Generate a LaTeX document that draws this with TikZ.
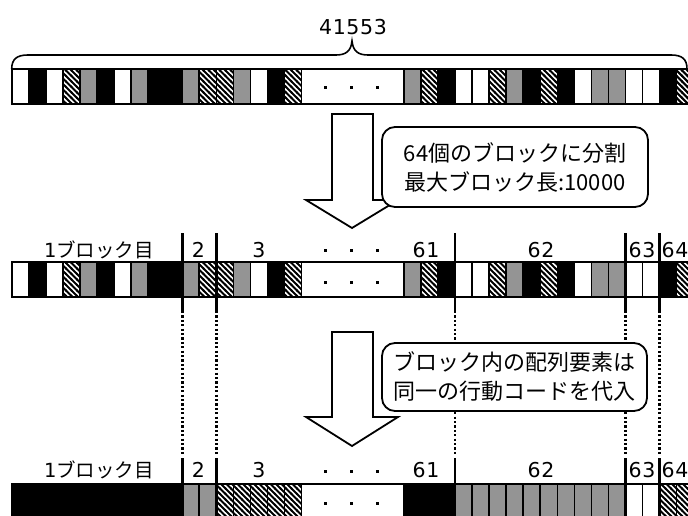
\documentclass[tikz,border=0pt]{standalone}
\usepackage{fontspec}
\setmainfont{Noto Sans CJK JP}
\newfontfamily\jpnum[LetterSpace=3]{DejaVu Sans}
\usetikzlibrary{patterns}
\pgfdeclarepatternformonly{mhatch}{\pgfqpoint{-1pt}{-1pt}}{\pgfqpoint{6.5pt}{6.5pt}}{\pgfqpoint{5.5pt}{5.5pt}}{%
  \pgfsetlinewidth{2.1pt}%
  \pgfpathmoveto{\pgfqpoint{-1pt}{6.5pt}}%
  \pgfpathlineto{\pgfqpoint{6.5pt}{-1pt}}%
  \pgfusepathqstroke}
\tikzset{
  cellline/.style={draw=black, line width=1.6pt},
  cW/.style={fill=white},
  cK/.style={fill=black},
  cG/.style={fill=black!42},
  cH/.style={pattern=mhatch},
  sepline/.style={line width=2.6pt},
  dotsep/.style={line width=2.6pt, dash pattern=on 2.2pt off 2.2pt},
  blockarrow/.style={draw=black, line width=1.8pt, fill=white, line join=miter},
  infobox/.style={draw=black, line width=1.8pt, rounded corners=13pt, fill=white, align=center,
    font=\fontsize{22}{29}\selectfont, inner sep=0pt},
  lab/.style={font=\fontsize{19.5}{20}\selectfont, inner sep=0pt},
  numlab/.style={font=\fontsize{20.5}{22}\selectfont\jpnum, inner sep=0pt},
}
\newcommand\cellbar[3]{% #1 top, #2 height, #3 list
  \foreach \i/\s in {#3} {
    \filldraw[cellline,\s] ({11.7+17.05*\i},#1) rectangle ({11.7+17.05*(\i+1)},#1+#2);
  }
  \filldraw[cellline,fill=white] ({11.7+17.05*17},#1) rectangle ({11.7+17.05*23},#1+#2);
  \draw[cellline] (11.7,#1) rectangle (720,#1+#2);
}
\newcommand\sqdot[2]{\fill ({#1-1.5},{#2-1.5}) rectangle ++(3,3);}
\newcommand\threedots[1]{\sqdot{325.5}{#1}\sqdot{351.5}{#1}\sqdot{377.5}{#1}}
\begin{document}
\begin{tikzpicture}[x=1pt,y=-1pt]
\useasboundingbox (0,0) rectangle (688,516);
\clip (0,0) rectangle (688,516);
\fill[white] (0,0) rectangle (688,516);

% brace and total length
\draw[line width=1.6pt] (11.7,69) .. controls (11.7,59) and (17,55) .. (28,55) -- (336,55)
  .. controls (346,55) and (351,51) .. (352,41) .. controls (353,51) and (358,55) .. (368,55)
  -- (671,55) .. controls (682,55) and (687,59) .. (687,69);
\node[numlab] (total) at (353,27) {41553};

% top bar
\cellbar{69}{35}{0/cW,1/cK,2/cW,3/cH,4/cG,5/cK,6/cW,7/cG,8/cK,9/cK,10/cG,11/cH,12/cH,13/cG,14/cW,15/cK,16/cH,
  23/cG,24/cH,25/cK,26/cW,27/cW,28/cH,29/cG,30/cK,31/cH,32/cK,33/cW,34/cG,35/cG,36/cW,37/cW,38/cK,39/cH,40/cW}
\threedots{88}

% arrow 1 and box 1
\draw[blockarrow] (332,114) -- (373,114) -- (373,200) -- (398,200) -- (352,228) -- (306,200) -- (332,200) -- cycle;
\node[infobox, minimum width=266pt, minimum height=80pt] (box1) at (515,167)
  {64個のブロックに分割\\最大ブロック長:10000};

% row 2 labels
\node[lab] (r2b1) at (99,250) {{\jpnum 1}ブロック目};
\node[numlab] (r2b2) at (198.5,250) {2};
\node[numlab] (r2b3) at (259,250) {3};
\threedots{250}
\node[numlab] (r2b61) at (426,250) {61};
\node[numlab] (r2b62) at (541,250) {62};
\node[numlab] (r2b63) at (642,250) {63};
\node[numlab] (r2b64) at (675,250) {64};

% row 2 bar
\cellbar{262}{35}{0/cW,1/cK,2/cW,3/cH,4/cG,5/cK,6/cW,7/cG,8/cK,9/cK,10/cG,11/cH,12/cH,13/cG,14/cW,15/cK,16/cH,
  23/cG,24/cH,25/cK,26/cW,27/cW,28/cH,29/cG,30/cK,31/cH,32/cK,33/cW,34/cG,35/cG,36/cW,37/cW,38/cK,39/cH,40/cW}
\threedots{282}

% row 3 bar
\cellbar{484}{40}{0/cK,1/cK,2/cK,3/cK,4/cK,5/cK,6/cK,7/cK,8/cK,9/cK,10/cG,11/cG,12/cH,13/cH,14/cH,15/cH,16/cH,
  23/cK,24/cK,25/cK,26/cG,27/cG,28/cG,29/cG,30/cG,31/cG,32/cG,33/cG,34/cG,35/cG,36/cW,37/cW,38/cH,39/cH,40/cH}
\threedots{503}

% block separators
\foreach \k [count=\n] in {10,12,26,36,38} {
  \coordinate (s\n a) at ({11.7+17.05*\k},233);
  \coordinate (s\n b) at ({11.7+17.05*\k},311);
  \coordinate (s\n c) at ({11.7+17.05*\k},456);
  \coordinate (s\n d) at ({11.7+17.05*\k},520);
  \draw[sepline] (s\n a) -- (s\n b);
  \draw[dotsep] (s\n b) -- (s\n c);
  \draw[sepline] ([yshift=-2pt]s\n c) -- (s\n d);
}

% arrow 2 and box 2
\draw[blockarrow] (332,332) -- (373,332) -- (373,417) -- (398,417) -- (352,446) -- (306,417) -- (332,417) -- cycle;
\node[infobox, minimum width=265pt, minimum height=68pt] (box2) at (514.5,377)
  {ブロック内の配列要素は\\同一の行動コードを代入};

% row 3 labels
\node[lab] (r3b1) at (99,470) {{\jpnum 1}ブロック目};
\node[numlab] (r3b2) at (198.5,470) {2};
\node[numlab] (r3b3) at (259,470) {3};
\threedots{471}
\node[numlab] (r3b61) at (426,470) {61};
\node[numlab] (r3b62) at (541,470) {62};
\node[numlab] (r3b63) at (642,470) {63};
\node[numlab] (r3b64) at (675,470) {64};
\end{tikzpicture}
\end{document}
